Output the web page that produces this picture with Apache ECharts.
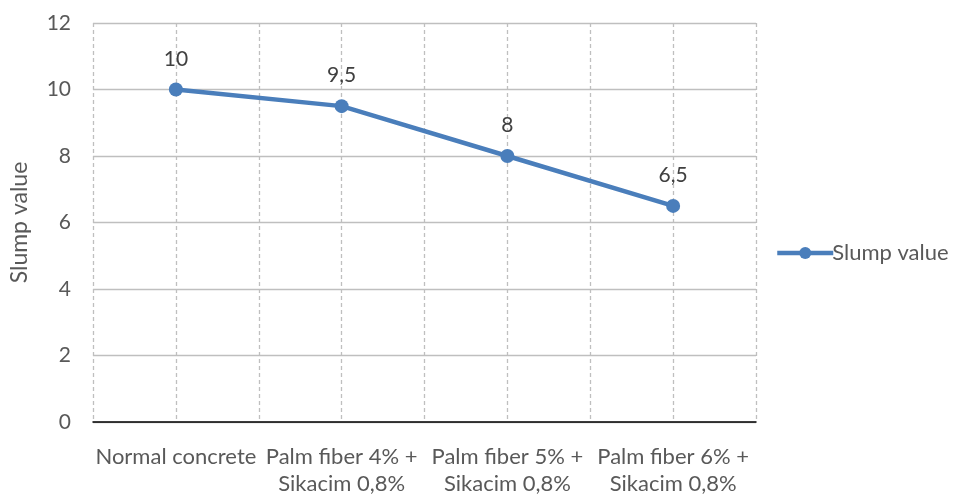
<!DOCTYPE html>
<html>
<head>
<meta charset="utf-8">
<script src="https://cdn.jsdelivr.net/npm/echarts@6/dist/echarts.min.js"></script>
<style>
  html, body { margin: 0; padding: 0; background: #fff; }
  #chart { width: 955px; height: 497px; }
</style>
</head>
<body>
<div id="chart"></div>
<script>
// Slump test results per concrete mix
const categories = [
  'Normal concrete',
  'Palm fiber 4% +\nSikacim 0,8%',
  'Palm fiber 5% +\nSikacim 0,8%',
  'Palm fiber 6% +\nSikacim 0,8%'
];
const slumpValues = [10, 9.5, 8, 6.5];
const yTicks = { min: 0, max: 12, interval: 2 };
const seriesName = 'Slump value';

const FONT = 'Lato, "Open Sans", "Liberation Sans", sans-serif';
const BLUE = '#4a7ebb';
const GRID = '#bfbfbf';
const TEXT = '#595959';

const chart = echarts.init(document.getElementById('chart'), null, { renderer: 'canvas' });

chart.setOption({
  animation: false,
  backgroundColor: '#ffffff',
  textStyle: { fontFamily: FONT },
  grid: { left: 92, right: 199, top: 23, bottom: 70, containLabel: false },
  legend: {
    data: [seriesName],
    orient: 'vertical',
    left: 770,
    top: 237,
    itemWidth: 56,
    itemHeight: 15,
    itemGap: 0,
    lineStyle: { width: 4.5 },
    textStyle: { fontFamily: FONT, fontSize: 22, color: TEXT, padding: [0, 0, 0, -6] }
  },
  xAxis: [
    {
      type: 'category',
      data: categories,
      boundaryGap: true,
      axisLine: { show: true, lineStyle: { color: '#000000', width: 1.5 } },
      axisTick: { show: false },
      splitLine: { show: false },
      axisLabel: {
        interval: 0,
        fontFamily: FONT,
        fontSize: 22,
        color: TEXT,
        lineHeight: 27,
        margin: 21,
        align: 'center'
      }
    },
    {
      // dashed vertical guides at category centres and boundaries
      type: 'value',
      position: 'bottom',
      min: 0,
      max: 8,
      interval: 1,
      axisLine: { show: false },
      axisTick: { show: false },
      axisLabel: { show: false },
      splitLine: { show: true, lineStyle: { color: GRID, type: [4, 3], width: 1.3 } }
    }
  ],
  yAxis: {
    type: 'value',
    min: yTicks.min,
    max: yTicks.max,
    interval: yTicks.interval,
    name: 'Slump value',
    nameLocation: 'middle',
    nameGap: 62,
    nameRotate: 90,
    nameTextStyle: { fontFamily: FONT, fontSize: 23, color: TEXT },
    axisLine: { show: false },
    axisTick: { show: false },
    axisLabel: { fontFamily: FONT, fontSize: 21, color: TEXT, margin: 22 },
    splitLine: { show: true, lineStyle: { color: GRID, width: 1.3 } }
  },
  series: [
    {
      name: seriesName,
      type: 'line',
      xAxisIndex: 0,
      data: slumpValues,
      symbol: 'circle',
      symbolSize: 14,
      lineStyle: { color: BLUE, width: 4.5 },
      itemStyle: { color: BLUE },
      label: {
        show: true,
        position: 'top',
        distance: 13,
        fontFamily: FONT,
        fontSize: 21,
        color: '#404040',
        formatter: p => String(p.value).replace('.', ',')
      },
      z: 5
    }
  ]
});
</script>
</body>
</html>
